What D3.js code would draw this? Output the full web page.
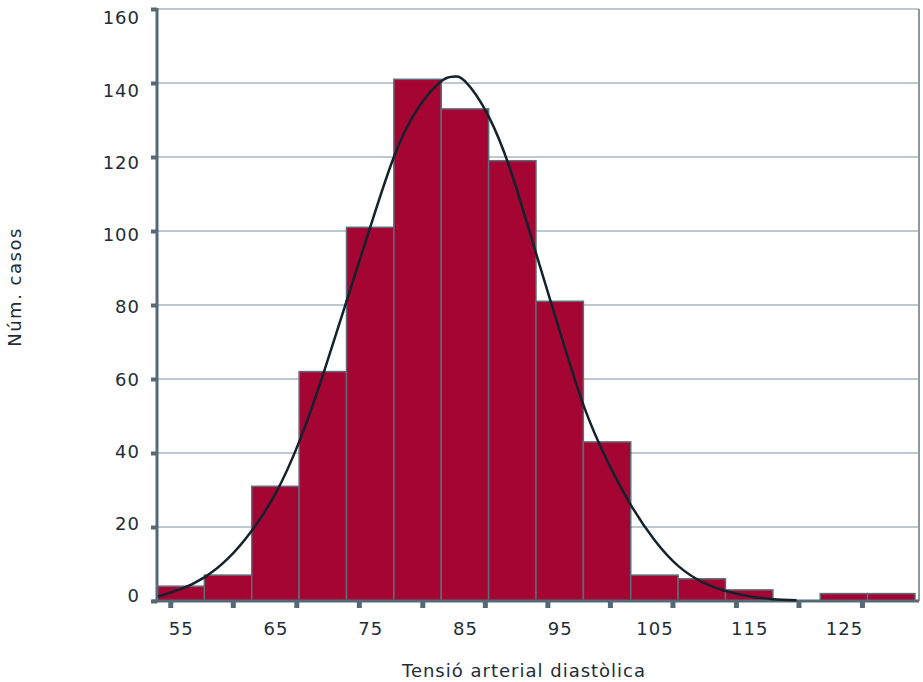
<!DOCTYPE html>
<html>
<head>
<meta charset="utf-8">
<script src="https://cdn.jsdelivr.net/npm/d3@7"></script>
<style>
  body { margin: 0; background: #fff; }
  text { font-family: "DejaVu Sans", sans-serif; fill: #1e2c38; }
</style>
</head>
<body>
<div id="chart"></div>
<script>
    // histogram bins (center of each 5-unit bin) and counts
    const binCenters = [55, 60, 65, 70, 75, 80, 85, 90, 95, 100, 105, 110, 115, 120, 125, 130];
    const counts = [4, 7, 31, 62, 101, 141, 133, 119, 81, 43, 7, 6, 3, 0, 2, 2];
    const binWidth = 5;

    // axis labels and the tick marks under the x axis (they don't line up with the labels in the original)
    const xLabels = [55, 65, 75, 85, 95, 105, 115, 125];
    const xTickMarks = [53.9, 60.5, 67.2, 73.8, 80.5, 87.1, 93.7, 100.3, 106.9, 113.6, 120.2, 126.9];
    const yTicks = [0, 20, 40, 60, 80, 100, 120, 140, 160];

    // normal curve, points
    const curveX = [52.6, 55, 57.5, 60, 62.5, 65, 67.5, 70, 72.5, 75, 77.5, 80, 82.5, 83.8, 85, 87.5, 90, 92.5, 95, 97.5, 100, 102.5, 105, 107.5, 110, 112.5, 115, 117.5, 120];
    const curveY = [1.2, 3.2, 6.4, 11.5, 19, 29, 43, 61, 81, 101, 120, 133, 140.5, 141.7, 140.5, 131, 115, 94, 73, 53, 38, 26, 16.5, 9.5, 5.2, 2.7, 1.3, 0.5, 0.2];

    const w = 923;
    const h = 682;
    const axisColor = '#556976';
    const gridColor = '#bcc7ce';
    const barColor = '#a50533';
    const barStroke = '#5d6c78';

    const svg = d3.select('#chart')
        .append('svg')
        .attr('width', w)
        .attr('height', h);

    const xScale = d3.scaleLinear()
        .domain([52.5, 132.5])
        .range([157, 915]);

    const yScale = d3.scaleLinear()
        .domain([0, 160])
        .range([601, 9]);

    // y labels sit slightly off the grid lines in the original
    const yLabelScale = d3.scaleLinear()
        .domain([0, 160])
        .range([596, 18]);

    // grid
    svg.append('g')
        .selectAll('line')
        .data(yTicks.filter(d => d > 0))
        .enter()
        .append('line')
        .attr('x1', xScale(52.5))
        .attr('x2', 919)
        .attr('y1', d => yScale(d))
        .attr('y2', d => yScale(d))
        .attr('stroke', gridColor)
        .attr('stroke-width', 2);

    // right border
    svg.append('line')
        .attr('x1', 919).attr('x2', 919)
        .attr('y1', yScale(160)).attr('y2', yScale(0))
        .attr('stroke', '#8d99a2')
        .attr('stroke-width', 2);

    // bars
    const bins = binCenters.map((c, i) => ({ c: c, n: counts[i] })).filter(d => d.n > 0);
    svg.append('g')
        .selectAll('rect')
        .data(bins)
        .enter()
        .append('rect')
        .attr('x', d => xScale(d.c - binWidth / 2))
        .attr('y', d => yScale(d.n))
        .attr('width', d => xScale(d.c + binWidth / 2) - xScale(d.c - binWidth / 2))
        .attr('height', d => yScale(0) - yScale(d.n))
        .attr('fill', barColor)
        .attr('stroke', barStroke)
        .attr('stroke-width', 1.5);

    // x axis: tick marks
    const xTickAxis = d3.axisBottom(xScale)
        .tickValues(xTickMarks)
        .tickSize(7)
        .tickFormat('');
    const gx = svg.append('g')
        .attr('transform', 'translate(0,' + yScale(0) + ')')
        .call(xTickAxis);
    gx.select('.domain').remove();
    gx.selectAll('.tick line').attr('stroke', axisColor).attr('stroke-width', 5);

    // x axis: labels
    const xLabelAxis = d3.axisBottom(xScale)
        .tickValues(xLabels)
        .tickSize(0)
        .tickPadding(21);
    const gxl = svg.append('g')
        .attr('transform', 'translate(0,' + yScale(0) + ')')
        .call(xLabelAxis);
    gxl.select('.domain').remove();
    gxl.selectAll('text')
        .attr('fill', '#1e2c38')
        .style('font-size', '18px')
        .style('letter-spacing', '1px')
        .attr('font-family', null);

    // x axis line
    svg.append('line')
        .attr('x1', 152).attr('x2', 919)
        .attr('y1', yScale(0)).attr('y2', yScale(0))
        .attr('stroke', axisColor)
        .attr('stroke-width', 3);

    // y axis
    const yAxis = d3.axisLeft(yScale)
        .tickValues(yTicks)
        .tickSize(6)
        .tickFormat('');
    const gy = svg.append('g')
        .attr('transform', 'translate(157,0)')
        .call(yAxis);
    gy.select('.domain').remove();
    gy.selectAll('.tick line').attr('stroke', axisColor).attr('stroke-width', 4);

    svg.append('line')
        .attr('x1', 157).attr('x2', 157)
        .attr('y1', yScale(160) - 1).attr('y2', yScale(0) + 1.5)
        .attr('stroke', axisColor)
        .attr('stroke-width', 3);

    svg.append('g')
        .selectAll('text')
        .data(yTicks)
        .enter()
        .append('text')
        .attr('x', 140)
        .attr('y', d => yLabelScale(d))
        .attr('dy', '0.36em')
        .attr('text-anchor', 'end')
        .style('font-size', '18px')
        .style('letter-spacing', '1px')
        .text(d => d);

    // fitted curve
    const line = d3.line()
        .x(d => xScale(d[0]))
        .y(d => yScale(d[1]))
        .curve(d3.curveNatural);
    svg.append('path')
        .datum(curveX.map((x, i) => [x, curveY[i]]))
        .attr('d', line)
        .attr('fill', 'none')
        .attr('stroke', '#13222d')
        .attr('stroke-width', 2.5);

    // titles
    svg.append('text')
        .attr('x', 524)
        .attr('y', 677)
        .attr('text-anchor', 'middle')
        .style('font-size', '18px')
        .style('letter-spacing', '1px')
        .text('Tensió arterial diastòlica');

    svg.append('text')
        .attr('transform', 'translate(21,287) rotate(-90)')
        .attr('text-anchor', 'middle')
        .style('font-size', '18px')
        .style('letter-spacing', '1.5px')
        .text('Núm. casos');
</script>
</body>
</html>
